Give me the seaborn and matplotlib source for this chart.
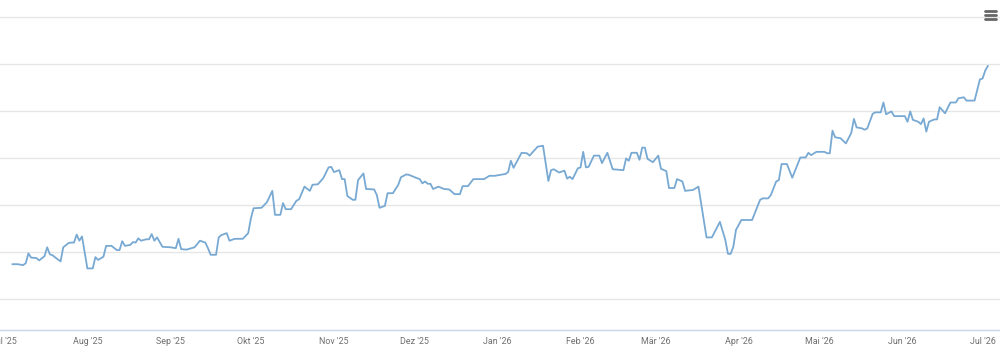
import matplotlib
matplotlib.use("Agg")
import matplotlib.pyplot as plt
import seaborn as sns
import pandas as pd
from matplotlib.lines import Line2D

# ---- data ----
start_date = "2025-07-01"
day_offsets = [3, 5, 7, 8, 9, 10, 12, 13, 15, 16, 17, 18, 20, 21, 22, 24, 25, 26, 27, 28,
               29, 31, 33, 34, 35, 37, 38, 40, 42, 43, 44, 45, 47, 48, 49, 50, 51, 53, 54, 55,
               56, 57, 59, 62, 64, 65, 66, 68, 71, 73, 75, 76, 77, 79, 80, 81, 83, 84, 86, 89,
               91, 92, 93, 96, 98, 100, 101, 103, 104, 105, 107, 108, 109, 110, 112, 114, 115, 117, 119, 121,
               122, 123, 125, 126, 127, 128, 130, 131, 132, 134, 135, 138, 139, 140, 142, 143, 145, 147, 148, 150,
               151, 154, 155, 156, 157, 158, 159, 160, 162, 164, 166, 168, 170, 171, 173, 175, 179, 181, 183, 187,
               188, 189, 190, 193, 195, 196, 199, 201, 203, 204, 205, 207, 209, 210, 211, 212, 214, 215, 216, 217,
               218, 220, 222, 223, 225, 227, 231, 232, 233, 234, 236, 237, 238, 239, 240, 242, 244, 245, 247, 248,
               250, 251, 253, 254, 257, 259, 262, 264, 267, 269, 270, 271, 272, 273, 275, 279, 282, 283, 285, 286,
               288, 289, 290, 292, 294, 297, 299, 300, 301, 303, 306, 307, 308, 309, 310, 312, 314, 316, 317, 318,
               320, 321, 322, 324, 325, 327, 328, 329, 331, 332, 336, 337, 338, 339, 341, 342, 343, 344, 345, 347,
               348, 349, 351, 353, 355, 356, 358, 359, 362, 364, 365, 366, 367]
values = [87.4, 87.4, 87.2, 87.6, 89.7, 88.8, 88.7, 88.2, 89.1, 91.0, 89.5, 89.3, 88.4, 88.0, 91.0, 91.9, 92.0, 92.0, 93.7, 92.4,
          93.3, 86.5, 86.5, 88.9, 88.3, 89.0, 91.3, 91.3, 90.4, 90.4, 92.3, 91.3, 91.5, 92.1, 92.0, 92.9, 92.4, 92.7, 92.7, 93.8,
          92.4, 93.1, 91.1, 91.0, 90.8, 92.8, 90.6, 90.5, 91.0, 92.4, 92.0, 90.8, 89.4, 89.4, 93.1, 93.6, 94.0, 92.4, 92.8, 92.8,
          94.0, 97.1, 99.3, 99.4, 100.6, 103.0, 97.9, 97.9, 100.4, 99.1, 99.1, 100.0, 100.9, 101.2, 103.9, 103.0, 104.3, 104.4, 105.7, 108.0,
          108.1, 107.0, 107.4, 105.5, 105.5, 101.9, 101.1, 101.1, 105.3, 106.7, 103.4, 103.3, 102.1, 99.4, 99.8, 102.5, 102.5, 104.3, 105.9, 106.5,
          106.4, 105.7, 105.5, 104.6, 105.0, 104.5, 104.5, 103.4, 103.9, 103.4, 103.3, 102.3, 102.3, 104.0, 104.0, 105.5, 105.5, 106.2, 106.2, 106.6,
          107.0, 109.4, 107.9, 111.1, 111.0, 110.5, 112.4, 112.6, 105.1, 107.4, 107.6, 106.9, 107.3, 105.6, 106.0, 105.5, 107.8, 108.0, 111.3, 108.0,
          108.1, 110.5, 110.5, 108.9, 111.1, 107.6, 107.4, 109.9, 109.4, 111.1, 111.1, 109.6, 112.2, 112.2, 109.8, 109.1, 110.5, 107.7, 107.2, 103.6,
          103.6, 105.5, 105.0, 103.0, 103.2, 103.9, 93.1, 93.1, 96.4, 92.6, 89.6, 89.6, 91.1, 94.7, 96.8, 96.8, 101.1, 101.4, 101.4, 102.1,
          105.0, 105.3, 108.7, 108.7, 105.8, 110.1, 110.1, 111.1, 110.6, 111.3, 111.3, 111.0, 111.0, 115.8, 114.4, 114.2, 113.1, 115.3, 118.3, 116.5,
          116.3, 116.0, 116.3, 119.4, 119.7, 119.7, 121.8, 119.3, 119.9, 118.9, 118.9, 117.7, 119.9, 118.1, 117.7, 117.2, 118.4, 115.6, 117.7, 118.2,
          118.2, 120.8, 119.5, 121.8, 121.8, 122.7, 122.9, 122.2, 122.2, 126.7, 126.9, 128.6, 129.6]
month_labels = ["Jul '25", "Aug '25", "Sep '25", "Okt '25", "Nov '25", "Dez '25", "Jan '26",
                "Feb '26", "Mär '26", "Apr '26", "Mai '26", "Jun '26", "Jul '26"]
grid_values = [80, 90, 100, 110, 120, 130, 140]

df = pd.DataFrame({
    "date": pd.Timestamp(start_date) + pd.to_timedelta(day_offsets, unit="D"),
    "value": values,
})

sns.set_theme(style="white")
plt.rcParams["font.family"] = ["Roboto", "DejaVu Sans"]

fig = plt.figure(figsize=(10, 3.51), dpi=100)
ax = fig.add_axes([0.0, 1 - 330 / 351, 1.0, (330 - 16) / 351])

sns.lineplot(data=df, x="date", y="value", ax=ax, color="#78a9d3", linewidth=1.3)

t0 = pd.Timestamp(start_date)
ax.set_xlim(t0 - pd.Timedelta(days=1.6), t0 + pd.Timedelta(days=371.5))
ax.set_ylim(73.4, 140.2)

ticks = pd.date_range(start_date, periods=len(month_labels), freq="MS")
ax.set_xticks(ticks)
ax.set_xticklabels(month_labels)
ax.set_yticks(grid_values)
ax.set_yticklabels([])

ax.grid(axis="y", color="#e6e6e6", linewidth=1)
ax.grid(axis="x", visible=False)
ax.tick_params(axis="y", length=0)
ax.tick_params(axis="x", length=3.0, width=0.8, color="#ccd6eb", pad=2.0,
               labelsize=6.4, labelcolor="#6e6e6e", direction="out")
for s in ["top", "left", "right"]:
    ax.spines[s].set_visible(False)
ax.spines["bottom"].set_color("#ccd6eb")
ax.spines["bottom"].set_linewidth(1)
ax.set_xlabel("")
ax.set_ylabel("")

# menu (hamburger) icon top right
for yy in (11, 15, 19):
    fig.add_artist(Line2D([985 / 1000, 996 / 1000], [1 - yy / 351, 1 - yy / 351],
                          transform=fig.transFigure, color="#666666", linewidth=2))

fig.savefig("out.png", dpi=100)
